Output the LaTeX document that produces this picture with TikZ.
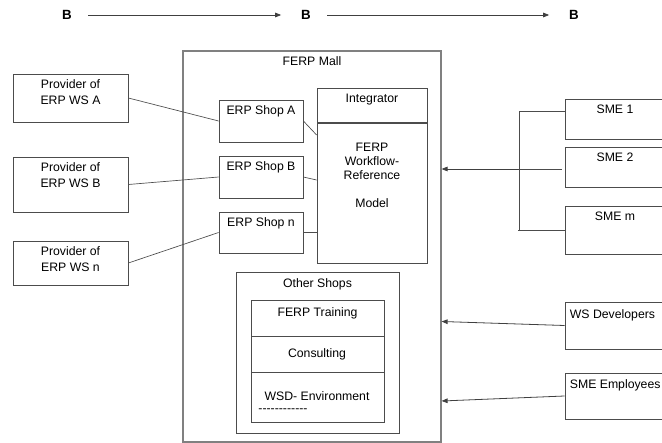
\documentclass[tikz,border=0pt]{standalone}
\usepackage{fontspec}
\setmainfont{Liberation Sans}
\usetikzlibrary{positioning, arrows.meta, fit, calc}

\tikzset{
  box/.style={draw=black!70, line width=0.6pt, inner sep=0pt},
  toptext/.style={anchor=north, align=center, inner sep=0pt, yshift=-4.5pt, font=\fontsize{9.2}{12}\selectfont},
  btext/.style={font=\bfseries\fontsize{10}{12}\selectfont},
  arr/.style={draw=black!75, line width=0.6pt, -{Triangle[length=4.5pt,width=3.5pt]}},
  link/.style={draw=black!70, line width=0.5pt},
}

\begin{document}
\begin{tikzpicture}[x=0.75pt, y=-0.75pt, font=\fontsize{9.2}{12}\selectfont]
\clip (0,0) rectangle (662,443);
% top row
\node[btext] (b1) at (67,15) {B};
\node[btext] (b2) at (306,15) {B};
\node[btext] (b3) at (574,15) {B};
\draw[arr, shorten <=8.8pt, shorten >=11.5pt] (b1) -- (b2);
\draw[arr, shorten <=8.8pt, shorten >=11.5pt] (b2) -- (b3);

% mall
\node[box, draw=black!50, line width=0.9pt, fit={(183,51) (441,442)}, label={[toptext]north:FERP Mall}] (mall) {};

% providers
\node[box, fit={(13,74) (128,122)}, label={[toptext]north:{Provider of\\ERP WS A}}] (provA) {};
\node[box, fit={(13,157) (128,212)}, label={[toptext]north:{Provider of\\ERP WS B}}] (provB) {};
\node[box, fit={(13,241) (128,285)}, label={[toptext]north:{Provider of\\ERP WS n}}] (provn) {};

% shops
\node[box, fit={(219,100) (303,142)}, label={[toptext]north:ERP Shop A}] (shopA) {};
\node[box, fit={(219,156) (303,198)}, label={[toptext]north:ERP Shop B}] (shopB) {};
\node[box, fit={(219,212) (303,253)}, label={[toptext]north:ERP Shop n}] (shopn) {};

% integrator
\node[box, fit={(317,88) (427,263)}, label={[toptext]north:Integrator}] (integ) {};
\coordinate (integdiv) at (317,123);
\draw[link, line width=0.9pt] (integdiv) -- (integdiv -| integ.east);
\node[font=\fontsize{9.2}{10.5}\selectfont, align=center, anchor=north, inner sep=0pt] (wfref) at (372,143) {FERP\\Workflow-\\Reference\\[10.5pt]Model};

\draw[link] (provA.east) -- (shopA.west);
\draw[link] (provB.east) -- (shopB.west);
\draw[link] (provn.east) -- (shopn.west);
\draw[link] (shopA.east) -- ($(integ.west |- shopA.east)+(0,14)$);
\draw[link] (shopB.east) -- ($(integ.west |- shopB.east)+(0,3)$);
\draw[link] (shopn.east) -- (integ.west |- shopn.east);

% other shops
\node[box, fit={(236,272) (399,433)}, label={[toptext, yshift=-0.75pt]north:Other Shops}] (others) {};
\node[box, fit={(251,300) (384,336)}, label={[toptext, yshift=-1.5pt]north:FERP Training}] (training) {};
\node[box, fit={(251,336) (384,372)}] (consult) {};
\node (consulttxt) at (317,354) {Consulting};
\node[box, fit={(251,372) (384,422)}] (wsdenv) {};
\node (wsdtxt) at (317,396) {WSD- Environment};
\node (wsddash) at (283,411) {-{}-{}-{}-{}-{}-{}-{}-{}-{}-{}-{}-};

% SMEs
\node[box, fit={(565,99) (665,139)}, label={[toptext]north:SME 1}] (sme1) {};
\node[box, fit={(565,147) (665,187)}, label={[toptext]north:SME 2}] (sme2) {};
\node[box, fit={(565,206) (665,254)}, label={[toptext]north:SME m}] (smem) {};
\coordinate (brtop) at (519,111);
\coordinate (brmid) at (519,169);
\coordinate (brbot) at (519,230);
\draw[link] (brtop) -- (brbot);
\draw[link] (brtop) -- (sme1.west |- brtop);
\draw[link] (brmid) -- ($(sme2.west |- brmid)+(-3,0)$);
\draw[link] ($(brbot)+(-1,0)$) -- (smem.west |- brbot);
\draw[arr] (brmid) -- (brmid -| mall.east);

% developers, employees
\node[box, fit={(565,302) (670,349)}, label={[toptext, anchor=north west, xshift=3.75pt, yshift=-1.5pt]north west:WS Developers}] (wsdev) {};
\node[box, fit={(565,373) (670,419)}, label={[toptext, anchor=north west, xshift=3.75pt, yshift=-0.75pt]north west:SME Employees}] (smeemp) {};
\draw[arr] (wsdev.west) -- ($(wsdev.west -| mall.east)+(0,-4)$);
\draw[arr] (smeemp.west) -- ($(smeemp.west -| mall.east)+(0,5)$);
\end{tikzpicture}
\end{document}
